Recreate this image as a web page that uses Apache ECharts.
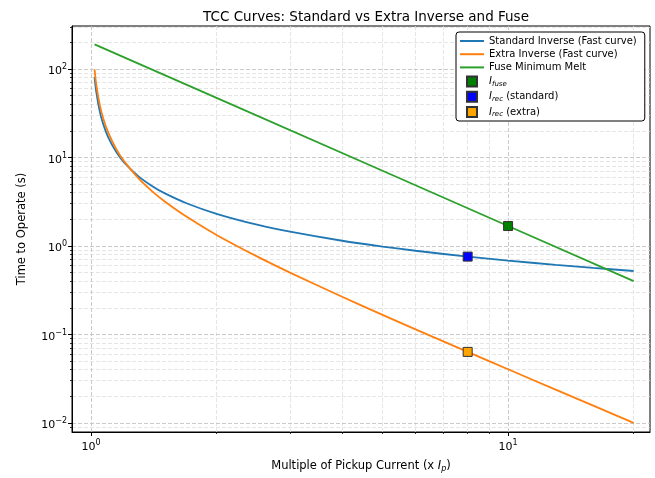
<!DOCTYPE html>
<html>
<head>
<meta charset="utf-8">
<script src="https://cdn.jsdelivr.net/npm/echarts@6/dist/echarts.min.js"></script>
<style>html,body{margin:0;padding:0;background:#fff}#c{width:655px;height:478px}</style>
</head>
<body>
<div id="c"></div>
<script>
// ---- data ----
const multiples = [1.02,1.03,1.05,1.07,1.1,1.15,1.2,1.3,1.4,1.5,1.7,2,2.5,3,4,5,6,8,10,13,16,20];
const standardInverse = [81,54.4,33.0,23.8,16.9,11.5,8.82,6.12,4.77,3.95,3.02,2.31,1.74,1.45,1.145,0.984,0.883,0.758,0.683,0.612,0.565,0.521];
const extraInverse = [99,65.7,39.0,27.6,19.05,12.4,9.09,5.80,4.17,3.20,2.12,1.333,0.762,0.5,0.267,0.1667,0.1143,0.0635,0.0404,0.0238,0.0157,0.0100];
const fuseMultiples = [1.02,2,5,10,20];
const fuseMinimumMelt = [190,47.2,7.07,1.68,0.40];
const iFusePoint = [10,1.68];
const iRecStandardPoint = [8,0.758];
const iRecExtraPoint = [8,0.0635];
const xMajorTicks = [1,10];
const xMajorExps = ['0','1'];
const xMinorTicks = [2,3,4,5,6,7,8,9,20];
const yMajorTicks = [0.01,0.1,1,10,100];
const yMajorExps = ['\u22122','\u22121','0','1','2'];
const yMinorTicks = [0.009,0.02,0.03,0.04,0.05,0.06,0.07,0.08,0.09,0.2,0.3,0.4,0.5,0.6,0.7,0.8,0.9,2,3,4,5,6,7,8,9,20,30,40,50,60,70,80,90,200,300];
const xRange = [0.9005, 21.89];
const yRange = [0.0079, 306];

const FONT = 'DejaVu Sans';
const pair = (xs, ys) => xs.map((x, i) => [x, ys[i]]);
const supRich = {
  b: {fontFamily: FONT, fontSize: 11, color: '#000', verticalAlign: 'bottom', lineHeight: 16},
  s: {fontFamily: FONT, fontSize: 8, color: '#000', verticalAlign: 'bottom', lineHeight: 16, padding: [0, 0, 6, 0]}
};
function fmt(ticks, exps) {
  return v => {
    const i = ticks.findIndex(t => Math.abs(t - v) / t < 1e-6);
    return i < 0 ? '' : '{b|10}{s|' + exps[i] + '}';
  };
}
const majorGrid = {show: true, lineStyle: {color: '#c4c4c4', width: 0.9, type: [4, 2]}};
const minorGrid = {show: true, lineStyle: {color: '#dedede', width: 0.8, type: [4, 2]}};
const LINE_ICON = 'path://M0,0H24V2H0Z';
const SQUARE_ICON = 'path://M0,0H10V10H0Z';

const chart = echarts.init(document.getElementById('c'), null, {renderer: 'canvas'});
chart.setOption({
  animation: false,
  backgroundColor: '#fff',
  title: {
    text: 'TCC Curves: Standard vs Extra Inverse and Fuse',
    left: 361, top: 5, textAlign: 'center',
    textStyle: {fontFamily: FONT, fontSize: 13.5, fontWeight: 'normal', color: '#000'}
  },
  grid: {left: 72, top: 26, width: 578, height: 406, show: true, borderColor: '#000', borderWidth: 1, backgroundColor: 'transparent'},
  xAxis: [
    {
      type: 'log', logBase: 10, min: xRange[0], max: xRange[1], gridIndex: 0, position: 'bottom', z: 3,
      name: '{n|Multiple of Pickup Current (x }{i|I}{p|p}{n|)}',
      nameLocation: 'middle', nameGap: 27,
      nameTextStyle: {rich: {
        n: {fontFamily: FONT, fontSize: 11.5, color: '#000'},
        i: {fontFamily: FONT, fontSize: 11.5, fontStyle: 'italic', color: '#000'},
        p: {fontFamily: FONT, fontSize: 8, fontStyle: 'italic', color: '#000', padding: [6, 0, 0, 0]}
      }},
      axisLine: {show: true, lineStyle: {color: '#000', width: 1}},
      axisTick: {show: true, customValues: xMajorTicks, length: 4, lineStyle: {color: '#000', width: 1}},
      axisLabel: {show: true, customValues: xMajorTicks, formatter: fmt(xMajorTicks, xMajorExps), rich: supRich, margin: 5},
      splitLine: majorGrid,
      minorTick: {show: false}, minorSplitLine: {show: false}
    },
    {
      type: 'log', logBase: 10, min: xRange[0], max: xRange[1], gridIndex: 0, position: 'bottom', z: 2,
      axisLine: {show: false},
      axisTick: {show: true, customValues: xMinorTicks, length: 2, lineStyle: {color: '#000', width: 0.8}},
      axisLabel: {show: false},
      splitLine: minorGrid
    }
  ],
  yAxis: [
    {
      type: 'log', logBase: 10, min: yRange[0], max: yRange[1], gridIndex: 0, position: 'left', z: 3,
      name: 'Time to Operate (s)', nameLocation: 'middle', nameGap: 44,
      nameTextStyle: {fontFamily: FONT, fontSize: 11.5, color: '#000'},
      axisLine: {show: true, lineStyle: {color: '#000', width: 1}},
      axisTick: {show: true, customValues: yMajorTicks, length: 4, lineStyle: {color: '#000', width: 1}},
      axisLabel: {show: true, customValues: yMajorTicks, formatter: fmt(yMajorTicks, yMajorExps), rich: supRich, margin: 5},
      splitLine: majorGrid
    },
    {
      type: 'log', logBase: 10, min: yRange[0], max: yRange[1], gridIndex: 0, position: 'left', z: 2,
      axisLine: {show: false},
      axisTick: {show: true, customValues: yMinorTicks, length: 2, lineStyle: {color: '#000', width: 0.8}},
      axisLabel: {show: false},
      splitLine: minorGrid
    }
  ],
  legend: {
    orient: 'vertical', left: 456, top: 32,
    backgroundColor: '#fff', borderColor: '#000', borderWidth: 1, borderRadius: 3,
    padding: [4, 8, 3, 4], itemWidth: 24, itemHeight: 10, itemGap: 3.2,
    textStyle: {fontFamily: FONT, fontSize: 10, color: '#000', rich: {
      t: {fontFamily: FONT, fontSize: 10, color: '#000'},
      i: {fontFamily: FONT, fontSize: 10, fontStyle: 'italic', color: '#000'},
      sb: {fontFamily: FONT, fontSize: 7, fontStyle: 'italic', color: '#000', padding: [5, 0, 0, 0]}
    }},
    formatter: name => ({
      'I_fuse': '{i|I}{sb|fuse}',
      'I_rec (standard)': '{i|I}{sb|rec}{t| (standard)}',
      'I_rec (extra)': '{i|I}{sb|rec}{t| (extra)}'
    })[name] || name,
    data: [
      {name: 'Standard Inverse (Fast curve)', icon: LINE_ICON},
      {name: 'Extra Inverse (Fast curve)', icon: LINE_ICON},
      {name: 'Fuse Minimum Melt', icon: LINE_ICON},
      {name: 'I_fuse', icon: SQUARE_ICON},
      {name: 'I_rec (standard)', icon: SQUARE_ICON},
      {name: 'I_rec (extra)', icon: SQUARE_ICON}
    ]
  },
  series: [
    {name: 'Standard Inverse (Fast curve)', type: 'line', smooth: 0.3, showSymbol: false, symbol: 'none',
      data: pair(multiples, standardInverse), lineStyle: {color: '#1f77b4', width: 1.8}, itemStyle: {color: '#1f77b4'}, z: 4},
    {name: 'Extra Inverse (Fast curve)', type: 'line', smooth: 0.3, showSymbol: false, symbol: 'none',
      data: pair(multiples, extraInverse), lineStyle: {color: '#ff7f0e', width: 1.8}, itemStyle: {color: '#ff7f0e'}, z: 5},
    {name: 'Fuse Minimum Melt', type: 'line', showSymbol: false, symbol: 'none',
      data: pair(fuseMultiples, fuseMinimumMelt), lineStyle: {color: '#2ca02c', width: 1.8}, itemStyle: {color: '#2ca02c'}, z: 6},
    {name: 'I_fuse', type: 'scatter', symbol: 'rect', symbolSize: 9, data: [iFusePoint],
      itemStyle: {color: '#008000', borderColor: '#333', borderWidth: 1, opacity: 1}, z: 10},
    {name: 'I_rec (standard)', type: 'scatter', symbol: 'rect', symbolSize: 9, data: [iRecStandardPoint],
      itemStyle: {color: '#0000ff', borderColor: '#333', borderWidth: 1, opacity: 1}, z: 10},
    {name: 'I_rec (extra)', type: 'scatter', symbol: 'rect', symbolSize: 9, data: [iRecExtraPoint],
      itemStyle: {color: '#ffa500', borderColor: '#333', borderWidth: 1, opacity: 1}, z: 10}
  ]
});
</script>
</body>
</html>
